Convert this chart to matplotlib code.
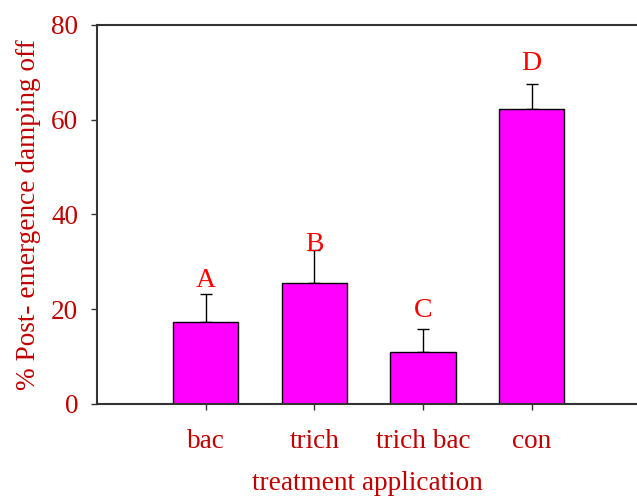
import matplotlib.pyplot as plt
import numpy as np

plt.rcParams['font.family'] = ['Liberation Serif', 'DejaVu Serif']

treatments = ['bac', 'trich', 'trich bac', 'con']
damping = [17.3, 25.5, 11.0, 62.2]
err = [6.0, 7.0, 4.8, 5.3]
letters = ['A', 'B', 'C', 'D']
letter_y = [24.7, 32.3, 18.4, 70.4]

txt = '#C00000'
fs = 19.6

fig = plt.figure(figsize=(6.37, 4.96), dpi=100)
ax = fig.add_axes([0.1523, 0.1855, 0.8477, 0.7641])

x = np.arange(len(treatments))
ax.bar(x, damping, width=0.6, color='#FF00FF', edgecolor='black', linewidth=1.0, zorder=2)
ax.errorbar(x, damping, yerr=[np.zeros(len(err)), err], fmt='none',
            ecolor='black', elinewidth=1.0, capsize=4, capthick=1.0, zorder=1)

for xi, lab, ly in zip(x, letters, letter_y):
    ax.text(xi, ly, lab, ha='center', va='baseline', color='#FF0000', fontsize=20)

ax.set_xlim(-1.0, 3.97)
ax.set_ylim(0, 80)
ax.set_yticks([0, 20, 40, 60, 80])
ax.set_xticks(x)
ax.set_xticklabels(treatments)

for s in ['left', 'bottom', 'top']:
    ax.spines[s].set_color('#333333')
    ax.spines[s].set_linewidth(1.5)
ax.spines['right'].set_visible(False)

ax.tick_params(axis='both', direction='out', length=4, width=1, color='#333333',
               labelcolor=txt, labelsize=fs)
ax.tick_params(axis='x', pad=14)
ax.tick_params(axis='y', pad=9.5)

ax.set_xlabel('treatment application', color=txt, fontsize=fs, labelpad=12.5)
ax.set_ylabel('% Post- emergence damping off', color=txt, fontsize=fs, labelpad=7)

fig.savefig('out.png', dpi=100)
